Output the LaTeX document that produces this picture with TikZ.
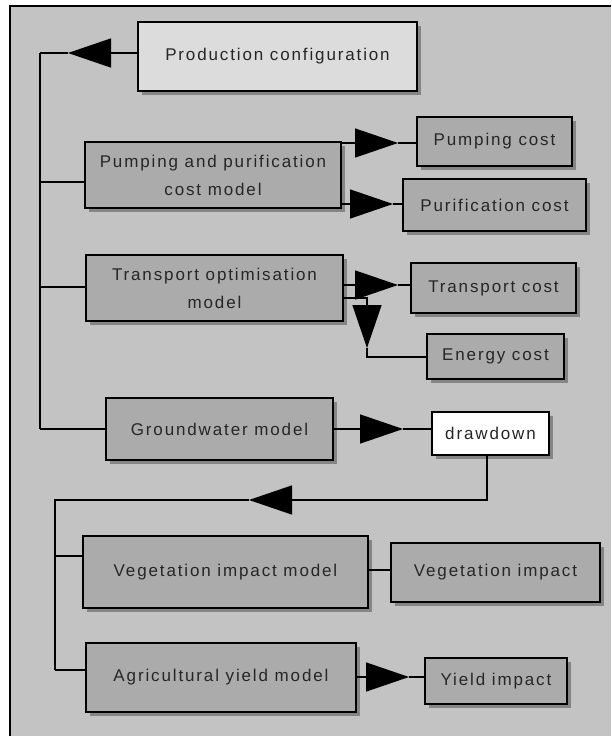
\documentclass[tikz,border=0pt]{standalone}
\usepackage{fontspec}
\setmainfont{Liberation Sans}[LetterSpace=11]
\usetikzlibrary{arrows.meta,shadows}
\definecolor{bg}{HTML}{C3C3C3}
\definecolor{boxfill}{HTML}{ABABAB}
\definecolor{lightbox}{HTML}{DCDCDC}
\definecolor{shadowc}{HTML}{858585}
\begin{document}
\begin{tikzpicture}[x=1pt,y=-1pt,
  box/.style={draw=black, line width=1.8pt, fill=boxfill, inner sep=0pt, align=center,
    font=\fontsize{17}{28}\selectfont, text=black!85,
    drop shadow={shadow xshift=4pt, shadow yshift=-4pt, fill=shadowc, opacity=1}},
  conn/.style={line width=1.4pt},
  bigarrow/.style={conn, -{Triangle[length=43pt,width=29pt]}}]
\useasboundingbox (0,0) rectangle (611,736);
\fill[white] (0,0) rectangle (611,736);
\fill[bg] (10,6) rectangle (611,736);
\draw[line width=1.3pt] (10,736) -- (10,6) -- (611,6);

% nodes
\node[box, fill=lightbox, minimum width=279pt, minimum height=69pt] (prod) at (277.5,56.5) {Production configuration};
\node[box, minimum width=256pt, minimum height=66pt] (pump) at (213,175) {Pumping and purification\\cost model};
\node[box, minimum width=155pt, minimum height=49pt] (pcost) at (494.5,141.5) {Pumping cost};
\node[box, minimum width=183pt, minimum height=52pt] (purcost) at (494.5,205) {Purification cost};
\node[box, minimum width=257pt, minimum height=66pt] (trans) at (214.5,288) {Transport optimisation\\model};
\node[box, minimum width=165pt, minimum height=50pt] (tcost) at (493.5,288) {Transport cost};
\node[box, minimum width=137pt, minimum height=45pt] (ecost) at (495.5,356.5) {Energy cost};
\node[box, minimum width=227pt, minimum height=62pt] (gw) at (219.5,429) {Groundwater model};
\node[box, fill=white, minimum width=117pt, minimum height=43pt] (dd) at (490.5,433.5) {drawdown};
\node[box, minimum width=285pt, minimum height=72pt] (veg) at (225.5,572) {Vegetation impact model};
\node[box, minimum width=209pt, minimum height=59pt] (vimp) at (495.5,572.5) {Vegetation impact};
\node[box, minimum width=270pt, minimum height=69pt] (agri) at (221,677.5) {Agricultural yield model};
\node[box, minimum width=142pt, minimum height=46pt] (yimp) at (496,681) {Yield impact};

% trunk and left branches
\coordinate (t0) at (40,53);
\coordinate (t1) at (40,429);
\coordinate (a0) at (68,53);
\draw[conn] (t0) -- (t1);
\draw[bigarrow] (prod.west |- t0) -- (a0);
\draw[conn] (a0) -- (t0);
\coordinate (tp) at (40,182);
\draw[conn] (tp) -- (tp -| pump.west);
\coordinate (tt) at (40,287);
\draw[conn] (tt) -- (tt -| trans.west);
\draw[conn] (t1) -- (t1 -| gw.west);

% outputs
\coordinate (a1) at (398,143);
\draw[bigarrow] (a1 -| pump.east) -- (a1);
\draw[conn] (a1) -- (a1 -| pcost.west);
\coordinate (a2) at (393,204);
\draw[bigarrow] (a2 -| pump.east) -- (a2);
\draw[conn] (a2) -- (a2 -| purcost.west);
\coordinate (a3) at (398,285);
\draw[bigarrow] (a3 -| trans.east) -- (a3);
\draw[conn] (a3) -- (a3 -| tcost.west);
\coordinate (e0) at (367,298);
\coordinate (a4) at (367,348);
\coordinate (e1) at (367,357);
\draw[bigarrow] (e0 -| trans.east) -- (e0) -- (a4);
\draw[conn] (a4) -- (e1) -- (e1 -| ecost.west);
\coordinate (a5) at (403,429);
\draw[bigarrow] (a5 -| gw.east) -- (a5);
\draw[conn] (a5) -- (a5 -| dd.west);

% feedback
\coordinate (f0) at (487,500);
\coordinate (a6) at (249,500);
\coordinate (f1) at (55,500);
\coordinate (f2) at (55,670);
\draw[bigarrow] (dd.south -| f0) -- (f0) -- (a6);
\draw[conn] (a6) -- (f1) -- (f2);
\coordinate (fv) at (55,556);
\draw[conn] (fv) -- (fv -| veg.west);
\draw[conn] (f2) -- (f2 -| agri.west);
\coordinate (v0) at (380,570);
\draw[conn] (v0 -| veg.east) -- (v0 -| vimp.west);
\coordinate (a7) at (409,677);
\draw[bigarrow] (a7 -| agri.east) -- (a7);
\draw[conn] (a7) -- (a7 -| yimp.west);
\end{tikzpicture}
\end{document}
